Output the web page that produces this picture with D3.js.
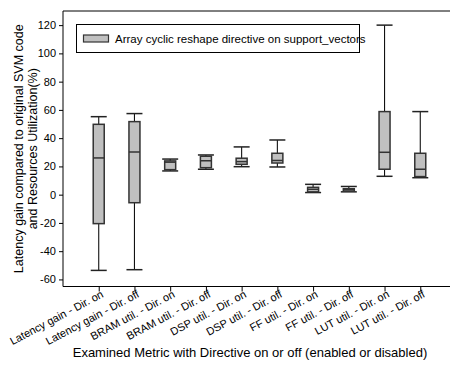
<!DOCTYPE html>
<html><head><meta charset="utf-8">
<script src="https://cdn.jsdelivr.net/npm/d3@7"></script>
<style>body{margin:0;background:#fff}svg{display:block;font-family:"Liberation Sans",Arial,sans-serif}</style>
</head><body><svg id="c" width="450" height="365"></svg>
<script>
const categories = ["Latency gain - Dir. on","Latency gain - Dir. off","BRAM util. - Dir. on","BRAM util. - Dir. off","DSP util. - Dir. on","DSP util. - Dir. off","FF util. - Dir. on","FF util. - Dir. off","LUT util. - Dir. on","LUT util. - Dir. off"];
const whiskerLow  = [-53.6,-53.1,16.8,18.0,19.8,19.6,1.5,2.0,13.0,12.0];
const q1          = [-20.5,-5.7,17.7,19.1,21.5,22.4,2.0,2.5,18.0,12.8];
const median      = [26.0,30.2,23.0,24.0,23.4,24.2,3.8,3.5,30.0,18.0];
const q3          = [49.8,51.7,23.9,27.2,25.8,29.3,5.2,4.2,58.8,29.3];
const whiskerHigh = [55.2,57.4,25.2,28.1,33.8,38.7,7.3,5.8,120.0,58.8];
const yTicks = [-60,-40,-20,0,20,40,60,80,100,120];
const legendLabel = "Array cyclic reshape directive on support_vectors";
const yTitle = ["Latency gain compared to original SVM code","and Resources Utilization(%)"];
const xTitle = "Examined Metric with Directive on or off (enabled or disabled)";

const svg = d3.select("#c");
const pL = 63, pT = 11, pB = 286.5, pR = 456;
const x = d3.scalePoint().domain(categories).range([pL, pR]).padding(1);
const y = d3.scaleLinear().domain([-65, 130]).range([pB, pT]);

svg.append("line").attr("x1", pL).attr("x2", 450).attr("y1", pT).attr("y2", pT)
  .attr("stroke", "#000").attr("stroke-width", 1);

const yAxis = svg.append("g").attr("transform", `translate(${pL},0)`)
  .call(d3.axisLeft(y).tickValues(yTicks).tickFormat(d => String(d)).tickSize(4).tickPadding(3));
yAxis.select(".domain").attr("d", `M0,${pT}V${pB}`);
yAxis.selectAll("text").attr("font-size", 11).attr("fill", "#000").attr("font-family", "Liberation Sans, Arial, sans-serif");

const xAxis = svg.append("g").attr("transform", `translate(0,${pB})`)
  .call(d3.axisBottom(x).tickSize(5).tickSizeOuter(0));
xAxis.select(".domain").attr("d", `M${pL},0H450`);
xAxis.selectAll("text").attr("font-size", 11).attr("fill", "#000")
  .attr("font-family", "Liberation Sans, Arial, sans-serif")
  .attr("text-anchor", "end").attr("dy", null).attr("y", 0)
  .attr("transform", "translate(5,10) rotate(-28)");

const data = categories.map((c, i) => ({c, lo: whiskerLow[i], q1: q1[i], med: median[i], q3: q3[i], hi: whiskerHigh[i]}));
const bw = 11, cw = 16;
const g = svg.append("g").selectAll("g").data(data).join("g")
  .attr("transform", d => `translate(${x(d.c)},0)`);
g.append("line").attr("y1", d => y(d.hi)).attr("y2", d => y(d.q3)).attr("stroke", "#111").attr("stroke-width", 1.1);
g.append("line").attr("y1", d => y(d.q1)).attr("y2", d => y(d.lo)).attr("stroke", "#111").attr("stroke-width", 1.1);
g.append("line").attr("x1", -cw/2).attr("x2", cw/2).attr("y1", d => y(d.hi)).attr("y2", d => y(d.hi)).attr("stroke", "#222").attr("stroke-width", 1.5);
g.append("line").attr("x1", -cw/2).attr("x2", cw/2).attr("y1", d => y(d.lo)).attr("y2", d => y(d.lo)).attr("stroke", "#222").attr("stroke-width", 1.5);
g.append("rect").attr("x", -bw/2).attr("width", bw).attr("y", d => y(d.q3)).attr("height", d => y(d.q1) - y(d.q3))
  .attr("fill", "#c0c0c0").attr("stroke", "#333").attr("stroke-width", 1.5);
g.append("line").attr("x1", -bw/2).attr("x2", bw/2).attr("y1", d => y(d.med)).attr("y2", d => y(d.med)).attr("stroke", "#333").attr("stroke-width", 1.5);

const lg = svg.append("g");
lg.append("rect").attr("x", 76.5).attr("y", 24.5).attr("width", 283).attr("height", 28).attr("fill", "#fff").attr("stroke", "#000").attr("stroke-width", 1);
lg.append("rect").attr("x", 83.5).attr("y", 35).attr("width", 25).attr("height", 7).attr("fill", "#c0c0c0").attr("stroke", "#333").attr("stroke-width", 1.2);
lg.append("text").attr("x", 115).attr("y", 43).attr("font-size", 11.5).text(legendLabel);

const yt = svg.append("text").attr("transform", `translate(0,${(pT+pB)/2}) rotate(-90)`).attr("text-anchor", "middle").attr("font-size", 12.5);
yt.append("tspan").attr("x", 0).attr("y", 23).text(yTitle[0]);
yt.append("tspan").attr("x", 0).attr("y", 37).text(yTitle[1]);

svg.append("text").attr("x", 250).attr("y", 357).attr("text-anchor", "middle").attr("font-size", 13).text(xTitle);
</script></body></html>
